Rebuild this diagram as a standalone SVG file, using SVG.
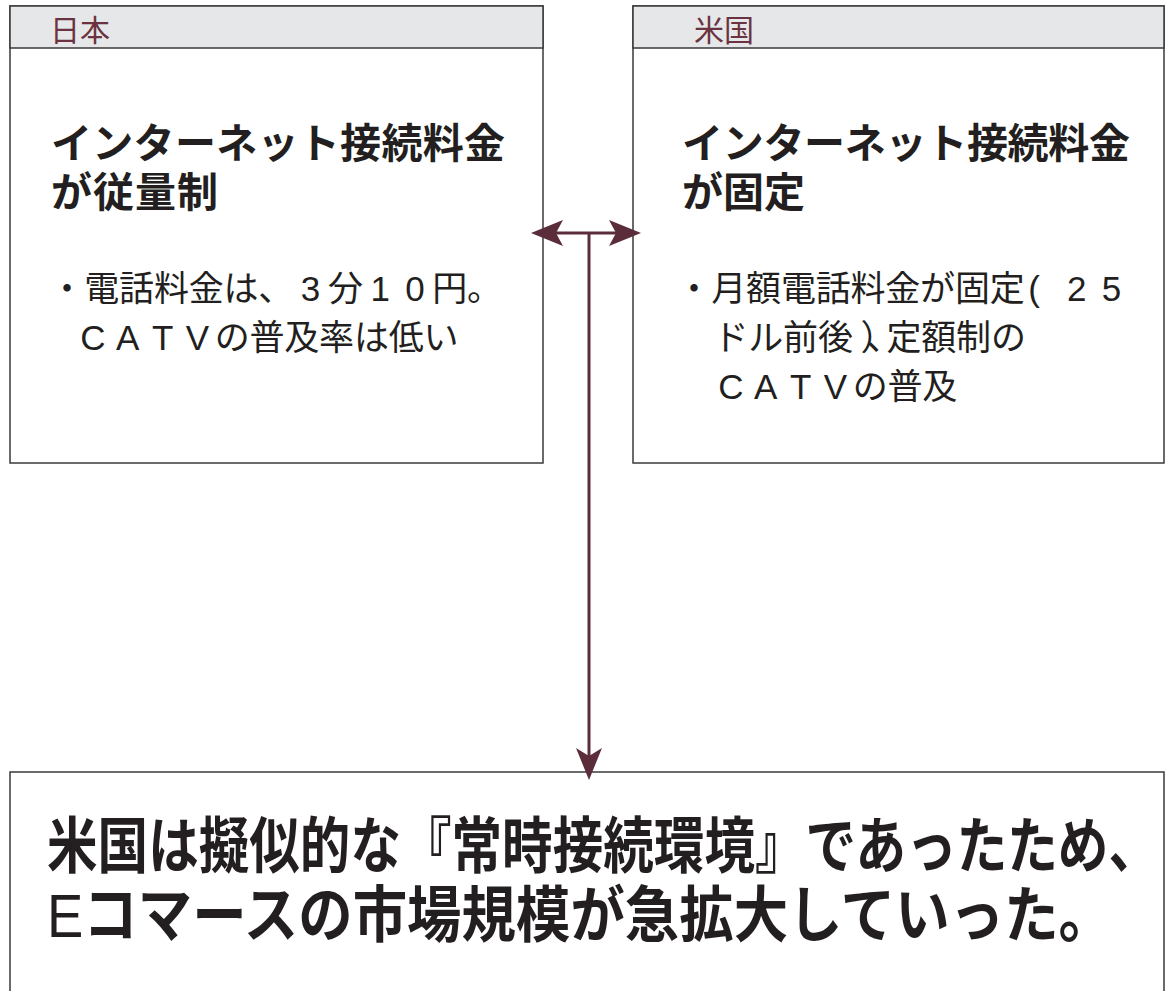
<svg xmlns="http://www.w3.org/2000/svg" width="1169" height="991" viewBox="0 0 1169 991">
<style>
.box{fill:#ffffff;stroke:#3a3a3a;stroke-width:1.5}
.hdr{fill:#e6e7e8;stroke:#3a3a3a;stroke-width:1.5}
.htxt{font-family:"Noto Sans CJK JP",sans-serif;font-size:30px;fill:#6b3341}
.ttl{font-family:"Liberation Sans","Noto Sans CJK JP",sans-serif;font-size:41px;font-weight:bold;fill:#231f20}
.body{font-family:"Liberation Sans","Noto Sans CJK JP",sans-serif;font-size:35px;fill:#231f20;text-anchor:middle}
.big{font-family:"Liberation Sans","Noto Sans CJK JP",sans-serif;font-size:51px;font-weight:bold;fill:#231f20}
.conn{stroke:#5b2d3a;stroke-width:3;fill:none}
.head{fill:#5b2d3a}
</style>
<g id="japan">
<rect class="box" x="10" y="6" width="533" height="457"/>
<rect class="hdr" x="10" y="6" width="533" height="42"/>
<text class="htxt" x="50" y="41">日本</text>
<text class="ttl" x="51" y="158" textLength="454" lengthAdjust="spacing">インターネット接続料金</text>
<text class="ttl" x="51" y="207" textLength="167" lengthAdjust="spacing">が従量制</text>
<text class="body" y="301" x="67 101.8 136.6 171.4 206.2 241 275.8 310.6 345.4 380.2 415 449.8 484.6">・電話料金は、3分10円。</text>
<text class="body" y="350" x="93 127.8 162.6 197.4 232.2 267 301.8 336.6 371.4 406.2 441">CATVの普及率は低い</text>
</g>
<g id="usa">
<rect class="box" x="633" y="6" width="531" height="457"/>
<rect class="hdr" x="633" y="6" width="531" height="42"/>
<text class="htxt" x="694" y="41">米国</text>
<text class="ttl" x="682" y="158" textLength="448" lengthAdjust="spacing">インターネット接続料金</text>
<text class="ttl" x="682" y="207" textLength="123" lengthAdjust="spacing">が固定</text>
<text class="body" y="301" x="694 728.8 763.6 798.4 833.2 868 902.8 937.6 972.4 1007.2 1034 1076.8 1111.6">・月額電話料金が固定(25</text>
<text class="body" y="350" x="731 765.8 800.6 835.4 878 884 904 938.8 973.6 1008.4">ドル前後）、定額制の</text>
<text class="body" y="399" x="731 765.8 800.6 835.4 870.2 905 939.8">CATVの普及</text>
</g>
<g id="result">
<rect class="box" x="10" y="772" width="1154" height="240"/>
<text class="big" transform="translate(47,868) scale(1,1.2)" x="0" y="0" textLength="1112" lengthAdjust="spacingAndGlyphs">米国は擬似的な『常時接続環境』であったため、</text>
<text class="big" transform="translate(47,937) scale(1,1.2)" x="0" y="0" textLength="1066" lengthAdjust="spacingAndGlyphs"><tspan style="font-weight:normal">E</tspan>コマースの市場規模が急拡大していった。</text>
</g>
<g id="connectors">
<line class="conn" x1="556" y1="233" x2="617" y2="233"/>
<line class="conn" x1="589" y1="233" x2="589" y2="756"/>
<path class="head" d="M531,233 L563,220 L556,233 L563,246 Z"/>
<path class="head" d="M641,233 L609,220 L616,233 L609,246 Z"/>
<path class="head" d="M589,780 L576,748 L589,756 L602,748 Z"/>
</g>
</svg>
